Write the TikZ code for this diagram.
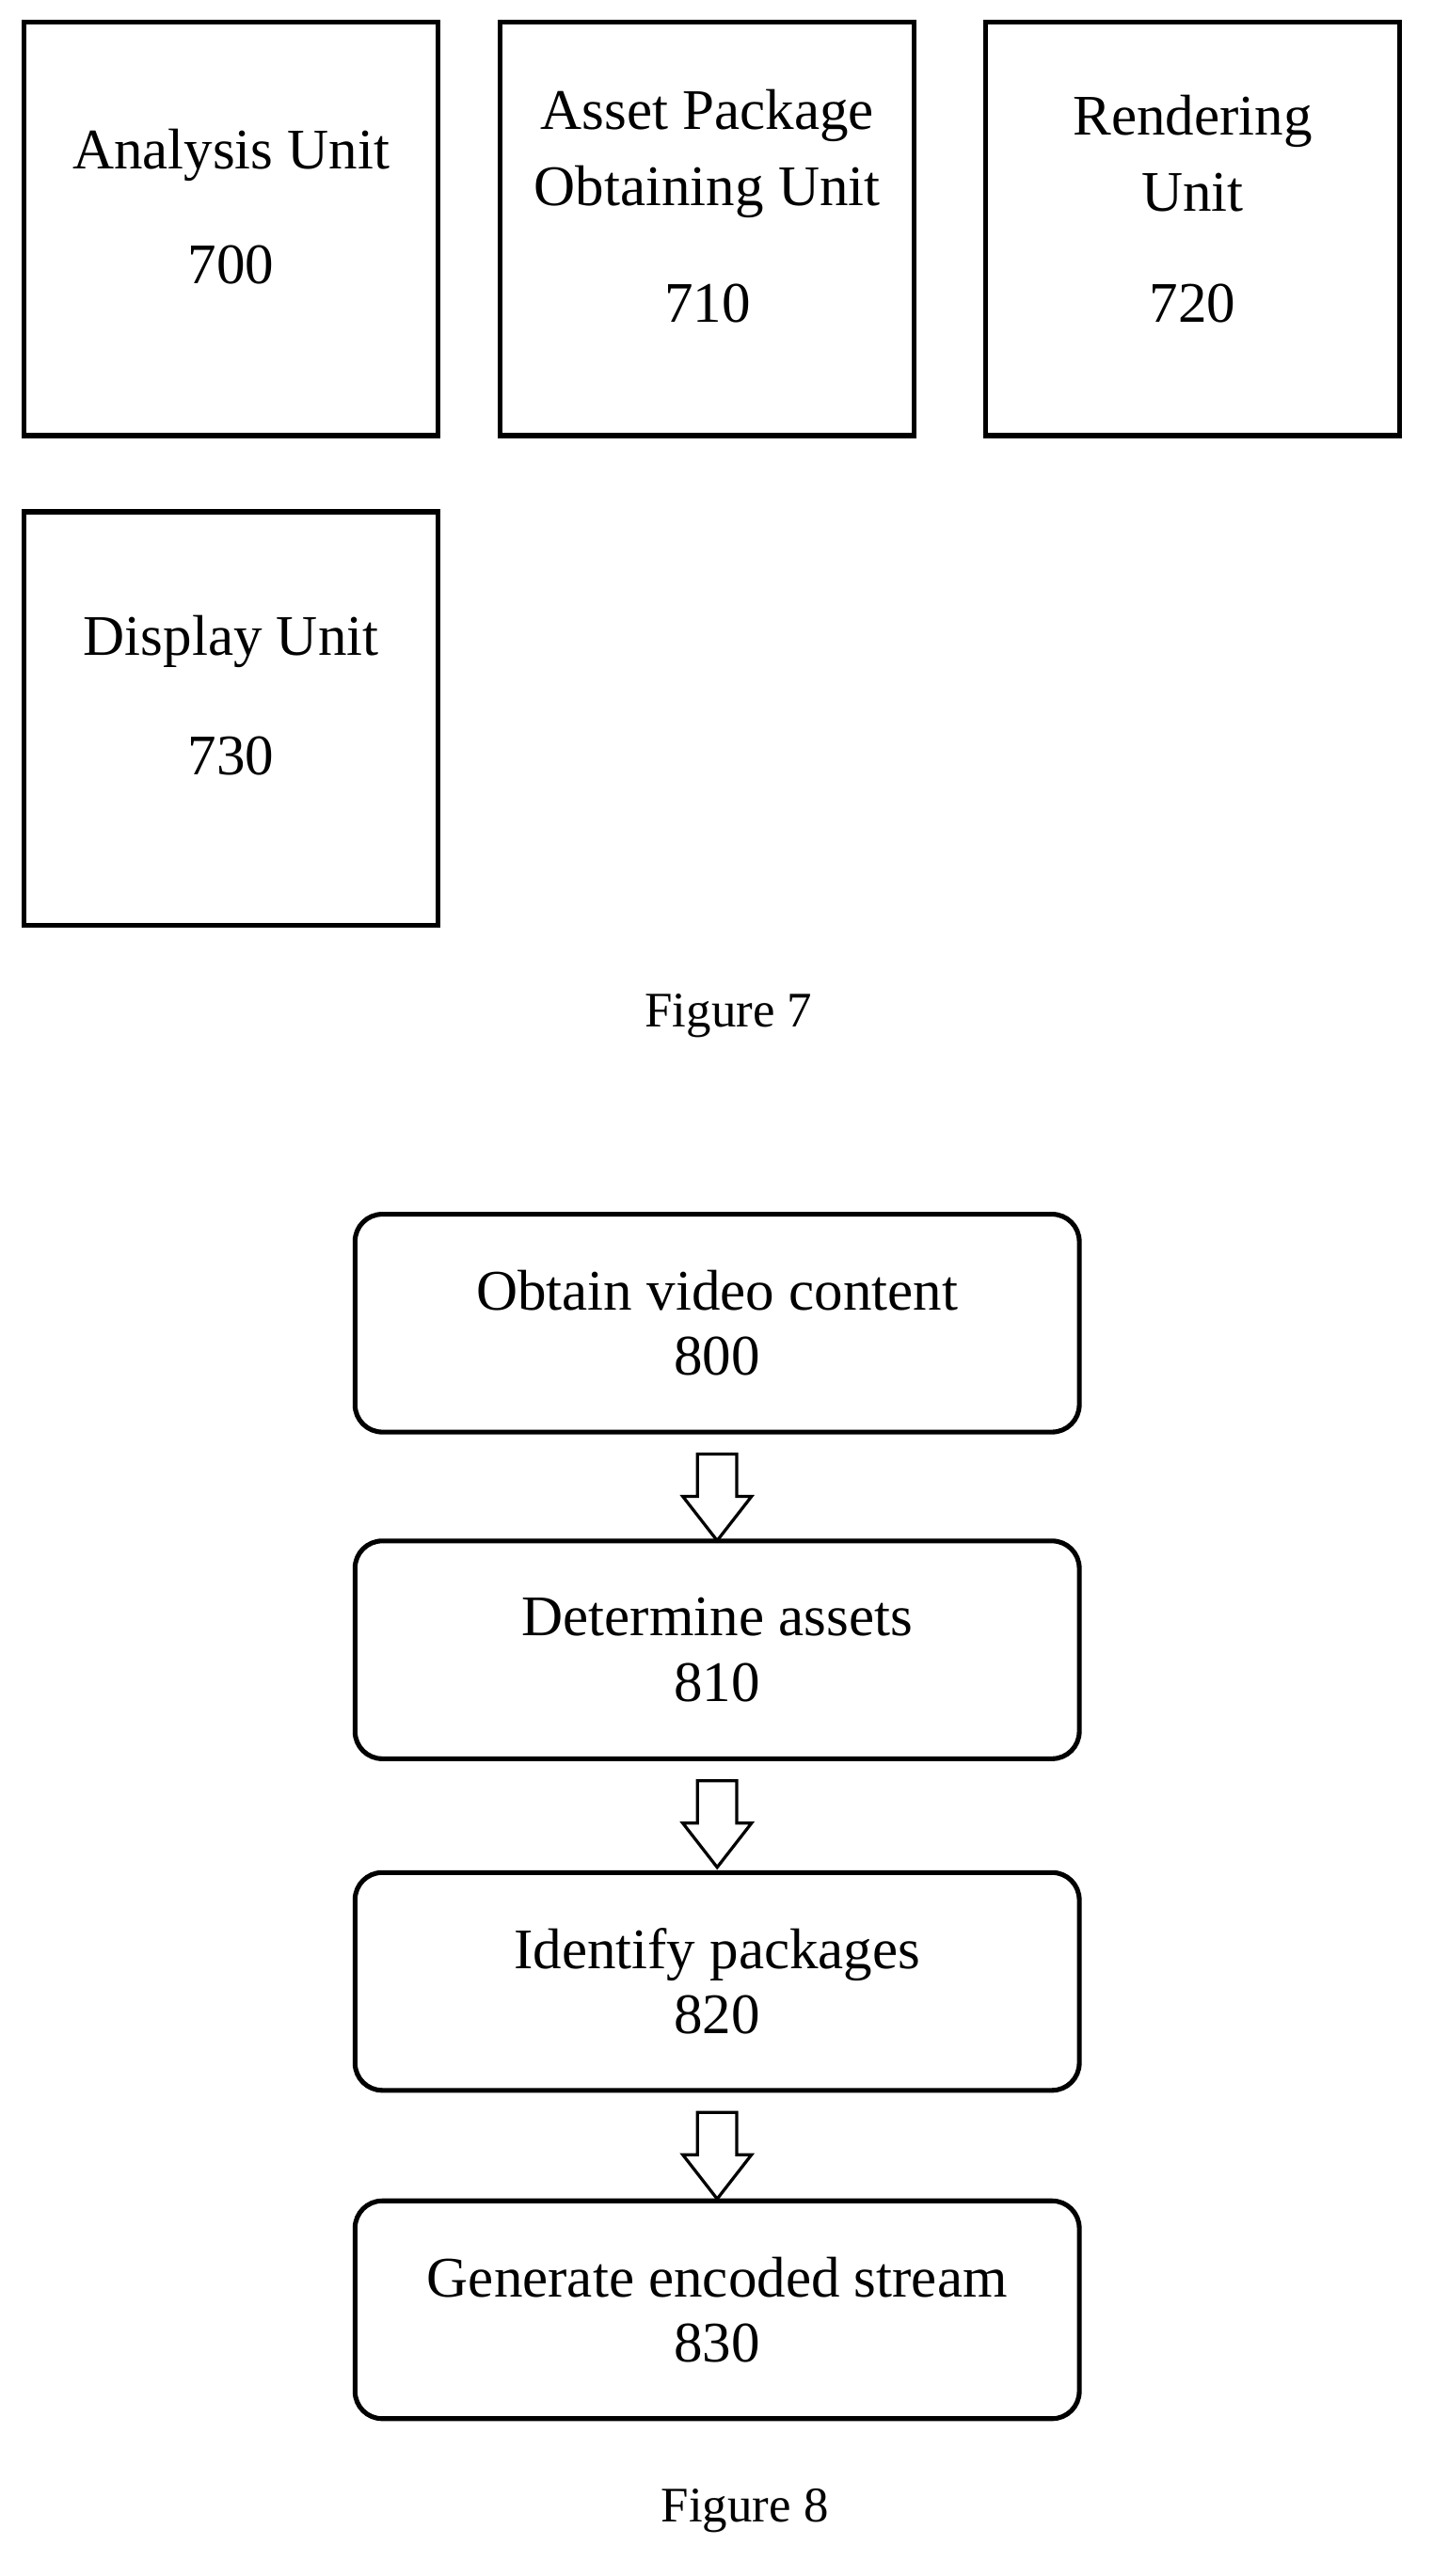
\documentclass[tikz,border=0pt]{standalone}
\usepackage{fontspec}
\setmainfont{Liberation Serif}
\usetikzlibrary{calc}
\begin{document}
\begin{tikzpicture}[x=0.03cm,y=-0.03cm,
  unitbox/.style={draw,line width=2.5pt,minimum width=7.6cm,minimum height=7.6cm,inner sep=0pt},
  stepbox/.style={draw,line width=2.5pt,rounded corners=0.5cm,minimum width=13.3cm,minimum height=4cm,
    align=center,font=\fontsize{30}{34}\selectfont},
  txt/.style={font=\fontsize{30}{40}\selectfont,align=center},
  figcap/.style={font=\fontsize{26}{30}\selectfont},
  flowarrow/.style={draw,line width=1.6pt,fill=white}]
\useasboundingbox (0,0) rectangle (877,1577);
% Figure 7
\node[unitbox] (u700) at (141.5,140) {};
\node[unitbox] (u710) at (433,140) {};
\node[unitbox] (u720) at (730,140) {};
\node[unitbox] (u730) at (141.5,440) {};
\node[txt] at (141.5,95) {Analysis Unit};
\node[txt] at (141.5,162) {700};
\node[txt] at (433,94) {Asset Package\\Obtaining Unit};
\node[txt] at (433,186) {710};
\node[txt] at (730,94) {Rendering\\Unit};
\node[txt] at (730,186) {720};
\node[txt] at (141.5,393) {Display Unit};
\node[txt] at (141.5,463) {730};
\node[figcap] (fig7) at (446,622) {Figure 7};
% Figure 8
\node[stepbox] (s800) at (439,810) {Obtain video content\\800};
\node[stepbox] (s810) at (439,1010) {Determine assets\\810};
\node[stepbox] (s820) at (439,1213) {Identify packages\\820};
\node[stepbox] (s830) at (439,1414) {Generate encoded stream\\830};
\node[figcap] (fig8) at (456,1537) {Figure 8};
% block arrows
\foreach \a in {s800,s810,s820}
  \draw[flowarrow] ($(\a.south)+(-12,12)$) -- ++(24,0) -- ++(0,26) -- ++(9,0) -- ++(-21,27)
    -- ++(-21,-27) -- ++(9,0) -- cycle;
\end{tikzpicture}
\end{document}
